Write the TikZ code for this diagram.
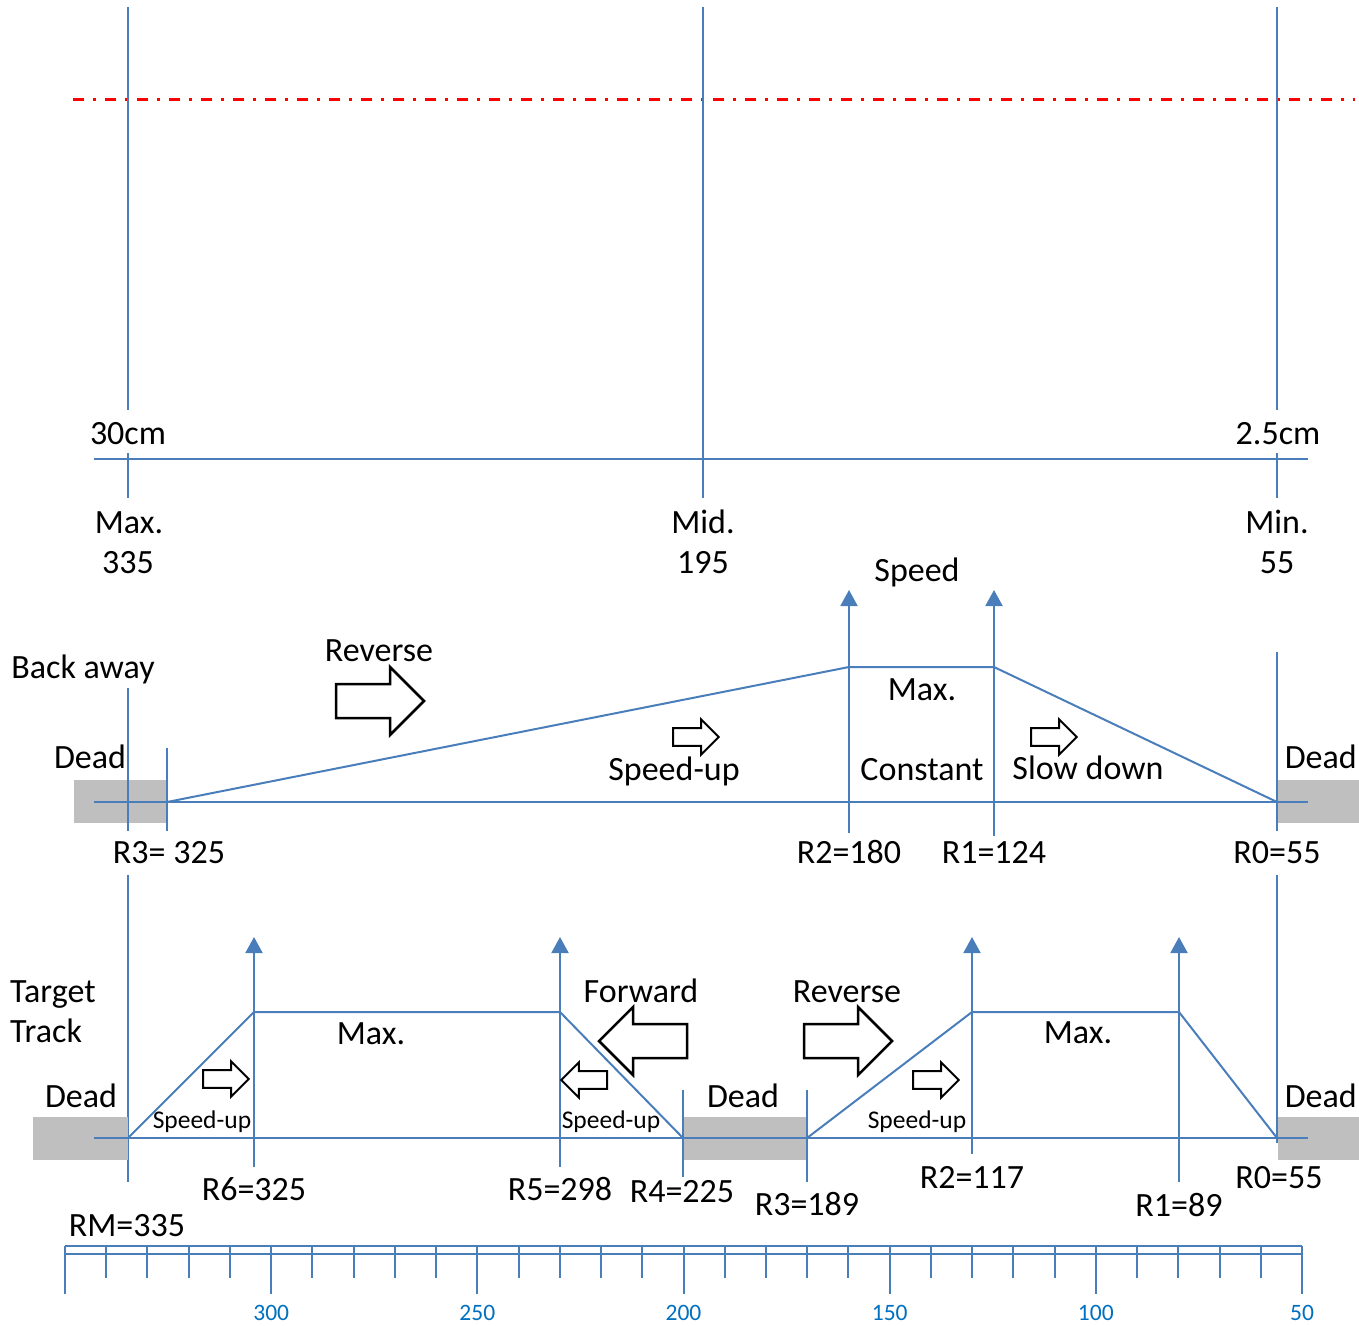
\documentclass[tikz,border=0pt]{standalone}
\usepackage{fontspec}
\setmainfont{Carlito}
\usetikzlibrary{arrows.meta}
\definecolor{lineblue}{RGB}{74,126,187}
\definecolor{rulerblue}{RGB}{0,112,192}
\definecolor{deadgray}{RGB}{191,191,191}
\tikzset{
  bl/.style={draw=lineblue, line width=2pt},
  uparr/.style={bl, -{Triangle[width=17pt,length=16pt]}},
  lbl/.style={font=\fontsize{34}{40}\selectfont, inner sep=0pt, anchor=base},
  smalllbl/.style={font=\fontsize{25.5}{30}\selectfont, inner sep=0pt, anchor=base},
  rulerlbl/.style={font=\fontsize{23.5}{27}\selectfont, text=rulerblue, inner sep=0pt, anchor=base},
  deadbox/.style={fill=deadgray, draw=none},
  blockarr/.style={draw=black, line width=2.5pt, fill=white, line join=miter},
  pics/barrow/.style={code={\draw[blockarr,#1] (0,-17) -- (54,-17) -- (54,-34) -- (88,0) -- (54,34) -- (54,17) -- (0,17) -- cycle;}},
  pics/barrow/.default={}
}
\begin{document}
\begin{tikzpicture}[x=1pt,y=-1pt]
\useasboundingbox (0,0) rectangle (1359,1325);

% ---------- top section ----------
\draw[red, line width=3pt, dash pattern=on 11pt off 9pt on 3pt off 9pt] (73,99) -- (1355,99);
\coordinate (tMaxTop) at (128,7);
\coordinate (tMaxA) at (128,410);
\coordinate (tMaxB) at (128,453);
\coordinate (tMaxC) at (128,498);
\coordinate (tMidTop) at (703,7);
\coordinate (tMidBot) at (703,498);
\coordinate (tMinTop) at (1277,7);
\coordinate (tMinA) at (1277,410);
\coordinate (tMinB) at (1277,453);
\coordinate (tMinC) at (1277,498);
\coordinate (tAxL) at (94,459);
\coordinate (tAxR) at (1308,459);
\draw[bl] (tMaxTop) -- (tMaxA);
\draw[bl] (tMaxB) -- (tMaxC);
\draw[bl] (tMidTop) -- (tMidBot);
\draw[bl] (tMinTop) -- (tMinA);
\draw[bl] (tMinB) -- (tMinC);
\draw[bl] (tAxL) -- (tAxR);
\node[lbl] (l30cm) at (128,444) {30cm};
\node[lbl] (l25cm) at (1278,444) {2.5cm};
\node[lbl] (lMax) at (129,533) {Max.};
\node[lbl] (l335) at (128,573) {335};
\node[lbl] (lMid) at (703,533) {Mid.};
\node[lbl] (l195) at (703,573) {195};
\node[lbl] (lMin) at (1277,533) {Min.};
\node[lbl] (l55) at (1277,573) {55};

% ---------- middle section (Back away) ----------
\fill[deadbox] (74,780) rectangle (167,823);
\fill[deadbox] (1278,780) rectangle (1359,823);
\coordinate (mBL) at (94,802);
\coordinate (mBR) at (1308,802);
\coordinate (mA3) at (167,802);
\coordinate (mP2) at (849,667);
\coordinate (mP1) at (994,667);
\coordinate (mA0) at (1277,802);
\draw[bl] (mBL) -- (mBR);
\draw[bl] (128,688) -- (128,831);
\draw[bl] (128,875) -- (128,1182);
\draw[bl] (167,748) -- (167,831);
\draw[uparr] (849,833) -- (849,590);
\draw[uparr] (994,836) -- (994,590);
\draw[bl] (1277,652) -- (1277,831);
\draw[bl] (1277,875) -- (1277,1143);
\draw[bl] (mA3) -- (mP2) -- (mP1) -- (mA0);

\pic at (336,701) {barrow};
\pic[scale=0.52] at (673,737) {barrow={line width=2pt}};
\pic[scale=0.52] at (1031,737) {barrow={line width=2pt}};

\node[lbl] (speed) at (917,581) {Speed};
\node[lbl] (backaway) at (83,678) {Back away};
\node[lbl] (rev1) at (379,661) {Reverse};
\node[lbl] (dead1) at (90,768) {Dead};
\node[lbl, anchor=base east] (dead2) at (1357,768) {Dead};
\node[lbl] (max1) at (922,700) {Max.};
\node[lbl] (spd1) at (674,780) {Speed-up};
\node[lbl] (const) at (922,780) {Constant};
\node[lbl] (slow) at (1088,779) {Slow down};
\node[lbl] (r3a) at (169,863) {R3= 325};
\node[lbl] (r2a) at (849,863) {R2=180};
\node[lbl] (r1a) at (994,863) {R1=124};
\node[lbl] (r0a) at (1277,863) {R0=55};

% ---------- bottom section (Target Track) ----------
\fill[deadbox] (33,1117) rectangle (128,1160);
\fill[deadbox] (684,1117) rectangle (807,1160);
\fill[deadbox] (1278,1117) rectangle (1359,1160);
\coordinate (bBL) at (94,1138);
\coordinate (bBR) at (1308,1138);
\coordinate (bS) at (128,1138);
\coordinate (bP6) at (254,1012);
\coordinate (bP5) at (560,1012);
\coordinate (bR4) at (683,1138);
\coordinate (bR3) at (807,1138);
\coordinate (bP2) at (972,1012);
\coordinate (bP1) at (1179,1012);
\coordinate (bR0) at (1277,1138);
\draw[bl] (bBL) -- (bBR);
\draw[uparr] (254,1167) -- (254,937);
\draw[uparr] (560,1167) -- (560,937);
\draw[uparr] (972,1154) -- (972,937);
\draw[uparr] (1179,1182) -- (1179,937);
\draw[bl] (683,1090) -- (683,1177);
\draw[bl] (807,1090) -- (807,1182);
\draw[bl] (bS) -- (bP6) -- (bP5) -- (bR4);
\draw[bl] (bR3) -- (bP2) -- (bP1) -- (bR0);

\pic at (687,1041) [xscale=-1] {barrow};
\pic at (804,1041) {barrow};
\pic[scale=0.52] at (203,1079) {barrow={line width=2pt}};
\pic at (607,1080) [xscale=-0.52, yscale=0.52] {barrow={line width=2pt}};
\pic[scale=0.52] at (913,1080) {barrow={line width=2pt}};

\node[lbl, anchor=base west] (target) at (10,1002) {Target};
\node[lbl, anchor=base west] (track) at (10,1042) {Track};
\node[lbl] (dead3) at (81,1107) {Dead};
\node[lbl] (dead4) at (743,1107) {Dead};
\node[lbl, anchor=base east] (dead5) at (1357,1107) {Dead};
\node[lbl] (max2) at (371,1044) {Max.};
\node[lbl] (max3) at (1078,1043) {Max.};
\node[lbl] (fwd) at (641,1002) {Forward};
\node[lbl] (rev2) at (847,1002) {Reverse};
\node[smalllbl] (su1) at (202,1128) {Speed-up};
\node[smalllbl] (su2) at (611,1128) {Speed-up};
\node[smalllbl] (su3) at (917,1128) {Speed-up};
\node[lbl] (r6) at (254,1200) {R6=325};
\node[lbl] (r5) at (560,1200) {R5=298};
\node[lbl] (r4) at (682,1202) {R4=225};
\node[lbl] (r3b) at (807,1215) {R3=189};
\node[lbl] (r2b) at (972,1188) {R2=117};
\node[lbl] (r1b) at (1179,1216) {R1=89};
\node[lbl] (r0b) at (1279,1188) {R0=55};
\node[lbl] (rm) at (127,1236) {RM=335};

% ---------- ruler ----------
\coordinate (rulL) at (65,1246);
\coordinate (rulR) at (1302,1246);
\coordinate (rul2L) at (65,1254);
\coordinate (rul2R) at (1302,1254);
\draw[bl] (rulL) -- (rulR);
\draw[draw=lineblue, line width=1.5pt] (rul2L) -- (rul2R);
\foreach \k in {0,...,30}{
  \pgfmathsetmacro{\xx}{65+41.2333*\k}
  \pgfmathtruncatemacro{\m}{mod(\k,5)}
  \ifnum\m=0
    \draw[bl] (\xx,1246) -- (\xx,1294);
  \else
    \draw[bl] (\xx,1246) -- (\xx,1278);
  \fi
}
\node[rulerlbl] (t300) at (271.2,1320) {300};
\node[rulerlbl] (t250) at (477.3,1320) {250};
\node[rulerlbl] (t200) at (683.5,1320) {200};
\node[rulerlbl] (t150) at (889.7,1320) {150};
\node[rulerlbl] (t100) at (1095.8,1320) {100};
\node[rulerlbl] (t50) at (1302,1320) {50};
\end{tikzpicture}
\end{document}
